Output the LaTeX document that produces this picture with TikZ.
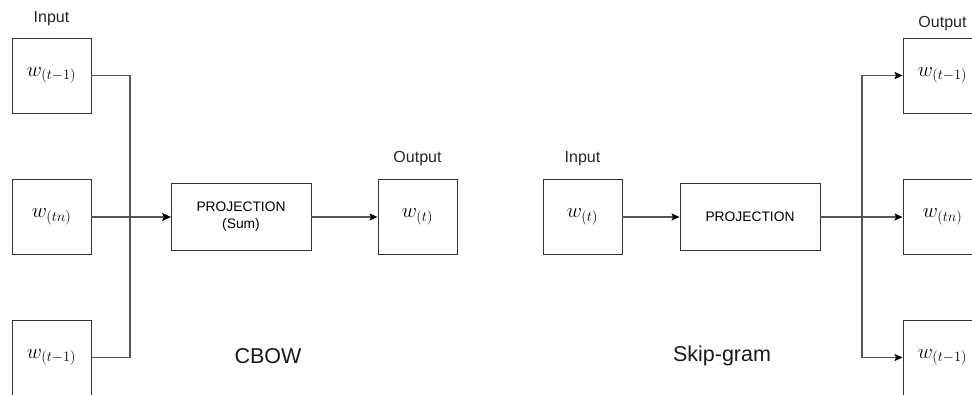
\documentclass[tikz,border=0pt]{standalone}
\usepackage[no-math]{fontspec}
\setmainfont{Liberation Sans}
\usetikzlibrary{arrows.meta,positioning}
\definecolor{wiregray}{RGB}{85,85,85}
\definecolor{boxgray}{RGB}{50,50,50}

\begin{document}
\begin{tikzpicture}[x=1pt,y=-1pt]
  \tikzstyle{word}=[draw=boxgray,line width=0.9pt,minimum width=79pt,minimum height=75pt,
    inner sep=0pt,font=\fontsize{22}{26}\selectfont]
  \tikzstyle{proj}=[draw=boxgray,line width=0.9pt,minimum width=140pt,minimum height=67pt,
    align=center,font=\fontsize{13.8}{17}\selectfont]
  \tikzstyle{lbl}=[inner sep=0pt,text=black!85,font=\fontsize{16}{19}\selectfont]
  \tikzstyle{title}=[inner sep=0pt,text=black!90,font=\fontsize{21.5}{25}\selectfont]
  \tikzstyle{wire}=[wiregray,line width=1.3pt]
  \tikzstyle{arr}=[wire,-{Stealth[length=8pt,width=7pt,inset=1.5pt,black]}]
  \useasboundingbox (0,0) rectangle (972,394);
  % CBOW: three context words feed the projection
  \node[word] (cin1) at (51.5,75.5) {$w_{(t-1)}$};
  \node[word] (cin2) at (51.5,217) {$w_{(tn)}$};
  \node[word] (cin3) at (51.5,357.5) {$w_{(t-1)}$};
  \node[lbl,above=12pt of cin1] {Input};
  \node[proj] (cproj) at (241,217) {PROJECTION\\(Sum)};
  \node[word] (cout) at (417.5,217) {$w_{(t)}$};
  \node[lbl,above=13pt of cout] {Output};
  \coordinate (cjoin) at (130,217);
  \draw[arr] (cin1.east) -| (cjoin) -- (cproj.west);
  \draw[arr] (cin2.east) -- (cproj.west);
  \draw[arr] (cin3.east) -| (cjoin) -- (cproj.west);
  \draw[arr] (cproj.east) -- (cout.west);
  \node[title] (cbow) at (268,356) {CBOW};
  % Skip-gram: one word predicts its context
  \node[word] (sin) at (582.5,217) {$w_{(t)}$};
  \node[lbl,above=13pt of sin] {Input};
  \node[proj] (sproj) at (750,217) {PROJECTION};
  \node[word] (sout1) at (942.5,75.5) {$w_{(t-1)}$};
  \node[word] (sout2) at (942.5,217) {$w_{(tn)}$};
  \node[word] (sout3) at (942.5,357.5) {$w_{(t-1)}$};
  \node[lbl,above=7pt of sout1] {Output};
  \coordinate (sjoin) at (862,217);
  \draw[arr] (sin.east) -- (sproj.west);
  \draw[arr] (sproj.east) -- (sjoin) |- (sout1.west);
  \draw[arr] (sproj.east) -- (sout2.west);
  \draw[arr] (sproj.east) -- (sjoin) |- (sout3.west);
  \node[title] (skip) at (722,356) {Skip-gram};
\end{tikzpicture}
\end{document}
